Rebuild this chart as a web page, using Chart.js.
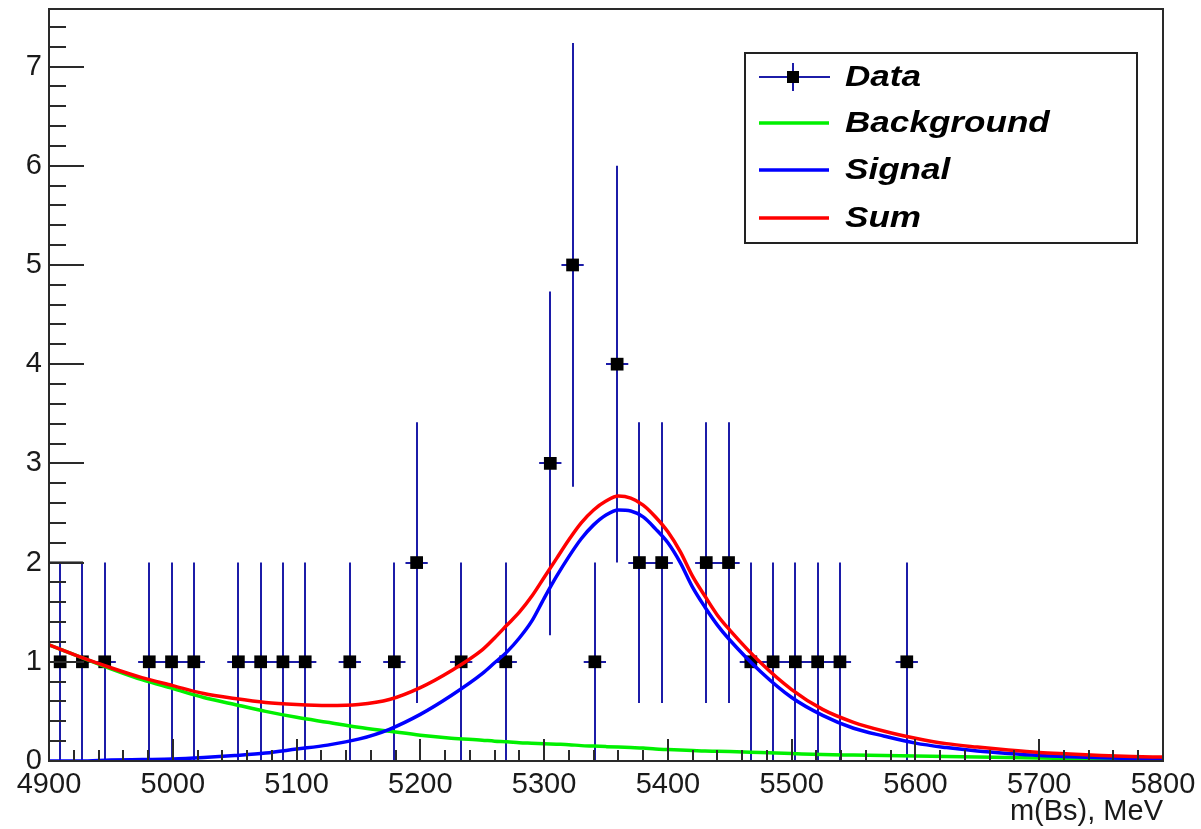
<!DOCTYPE html>
<html>
<head>
<meta charset="utf-8">
<script src="https://cdn.jsdelivr.net/npm/chart.js@4.4.1/dist/chart.umd.min.js"></script>
<style>
  body { margin: 0; background: #fff; }
  #c { display: block; }
</style>
</head>
<body>
<canvas id="c" width="1201" height="829"></canvas>
<script>
// --- data ---
// histogram bins (18 MeV wide), only the non-empty ones
var binCenters = [4909, 4927, 4945, 4981, 4999, 5017, 5053, 5071, 5089, 5107, 5143, 5179, 5197, 5233, 5269,
                  5305, 5323, 5341, 5359, 5377, 5395, 5431, 5449, 5467, 5485, 5503, 5521, 5539, 5593];
var counts     = [1, 1, 1, 1, 1, 1, 1, 1, 1, 1, 1, 1, 2, 1, 1,
                  3, 5, 1, 4, 2, 2, 2, 2, 1, 1, 1, 1, 1, 1];
var binHalfWidth = 9;

// fitted curves
var curveX     = [4900, 4925, 4950, 4975, 5000, 5025, 5050, 5075, 5100, 5125, 5150, 5175, 5200, 5225,
                  5250, 5260, 5270, 5280, 5290, 5300, 5310, 5320, 5330, 5340, 5350, 5360, 5370, 5380, 5390,
                  5400, 5410, 5420, 5430, 5440, 5450, 5475, 5500, 5525, 5550, 5575, 5600, 5625, 5650, 5675,
                  5700, 5725, 5750, 5775, 5800];
var background = [1.17, 1.05, 0.93, 0.82, 0.73, 0.64, 0.57, 0.50, 0.44, 0.39, 0.34, 0.30, 0.26, 0.23,
                  0.21, 0.20, 0.195, 0.185, 0.18, 0.175, 0.17, 0.165, 0.155, 0.15, 0.145, 0.14, 0.135, 0.13, 0.12,
                  0.115, 0.11, 0.105, 0.10, 0.098, 0.095, 0.085, 0.075, 0.065, 0.06, 0.055, 0.05, 0.045, 0.04, 0.035,
                  0.03, 0.025, 0.02, 0.02, 0.015];
var signal     = [0.00, 0.00, 0.01, 0.015, 0.02, 0.035, 0.055, 0.08, 0.12, 0.16, 0.22, 0.32, 0.47, 0.66,
                  0.88, 0.99, 1.10, 1.24, 1.41, 1.64, 1.86, 2.06, 2.24, 2.38, 2.48, 2.53, 2.52, 2.46, 2.34,
                  2.20, 2.00, 1.75, 1.55, 1.37, 1.22, 0.90, 0.64, 0.46, 0.33, 0.25, 0.18, 0.135, 0.10, 0.075,
                  0.055, 0.042, 0.032, 0.025, 0.02];
var sum        = [1.17, 1.05, 0.94, 0.84, 0.76, 0.68, 0.63, 0.59, 0.57, 0.56, 0.57, 0.62, 0.74, 0.91,
                  1.12, 1.24, 1.37, 1.50, 1.66, 1.85, 2.04, 2.23, 2.40, 2.53, 2.62, 2.67, 2.65, 2.58, 2.46,
                  2.31, 2.11, 1.86, 1.66, 1.47, 1.32, 0.99, 0.72, 0.52, 0.39, 0.30, 0.23, 0.175, 0.14, 0.11,
                  0.085, 0.07, 0.055, 0.045, 0.04];

// little black stub at the left edge
var stubX = [4900, 4927.5];
var stubY = [2, 2];

var xTicks = [4900, 5000, 5100, 5200, 5300, 5400, 5500, 5600, 5700, 5800];
var yTicks = [0, 1, 2, 3, 4, 5, 6, 7];
var xMin = 4900, xMax = 5800, yMin = 0, yMax = 7.58;

var legendLabels = ['Data', 'Background', 'Signal', 'Sum'];

var FONT = '"Liberation Sans", Arial, Helvetica, sans-serif';
var ERR_BLUE = '#1c1ca8';

function pts(xs, ys) {
    var out = [];
    for (var i = 0; i < xs.length; i++) out.push({x: xs[i], y: ys[i]});
    return out;
}

// error bars drawn just before the data markers
var errorBars = {
    id: 'errorBars',
    beforeDatasetDraw: function (chart, args) {
        if (chart.data.datasets[args.index].label !== 'Data') return;
        var ctx = chart.ctx, x = chart.scales.x, y = chart.scales.y;
        ctx.save();
        ctx.strokeStyle = ERR_BLUE;
        ctx.lineWidth = 2;
        ctx.beginPath();
        for (var i = 0; i < binCenters.length; i++) {
            var e = Math.sqrt(counts[i]);
            var px = Math.round(x.getPixelForValue(binCenters[i]));
            var py = Math.round(y.getPixelForValue(counts[i]));
            ctx.moveTo(px, y.getPixelForValue(Math.max(0, counts[i] - e)));
            ctx.lineTo(px, y.getPixelForValue(counts[i] + e));
            ctx.moveTo(x.getPixelForValue(binCenters[i] - binHalfWidth), py);
            ctx.lineTo(x.getPixelForValue(binCenters[i] + binHalfWidth), py);
        }
        ctx.stroke();
        ctx.restore();
    }
};

// ROOT style frame with inner ticks
var rootFrame = {
    id: 'rootFrame',
    afterDatasetsDraw: function (chart) {
        var ctx = chart.ctx, a = chart.chartArea, x = chart.scales.x, y = chart.scales.y;
        ctx.save();
        ctx.strokeStyle = '#2a2a2a';
        ctx.lineWidth = 2;
        ctx.strokeRect(a.left, a.top, a.right - a.left, a.bottom - a.top);
        ctx.beginPath();
        var v, p;
        for (v = xMin; v <= xMax + 0.01; v += 20) {
            p = Math.round(x.getPixelForValue(v));
            var major = Math.abs((v - xMin) % 100) < 0.01;
            ctx.moveTo(p, a.bottom);
            ctx.lineTo(p, a.bottom - (major ? 22 : 11));
        }
        for (v = 0; v <= yMax + 0.001; v += 0.2) {
            p = Math.round(y.getPixelForValue(v));
            var maj = Math.abs(v - Math.round(v)) < 0.01;
            ctx.moveTo(a.left, p);
            ctx.lineTo(a.left + (maj ? 35 : 17), p);
        }
        ctx.stroke();
        ctx.restore();
    }
};

// legend box, top right
var rootLegend = {
    id: 'rootLegend',
    afterDraw: function (chart) {
        var ctx = chart.ctx;
        var bx = 745, by = 53, bw = 392, bh = 190;
        var rows = [77, 123, 170, 218];
        var colors = [null, '#00f000', '#0000ff', '#ff0000'];
        ctx.save();
        ctx.fillStyle = '#fff';
        ctx.fillRect(bx, by, bw, bh);
        ctx.strokeStyle = '#222';
        ctx.lineWidth = 2;
        ctx.strokeRect(bx, by, bw, bh);

        for (var i = 0; i < legendLabels.length; i++) {
            var ry = rows[i];
            if (i === 0) {
                ctx.strokeStyle = ERR_BLUE;
                ctx.lineWidth = 2;
                ctx.beginPath();
                ctx.moveTo(759, ry); ctx.lineTo(830, ry);
                ctx.moveTo(793, ry - 14); ctx.lineTo(793, ry + 14);
                ctx.stroke();
                ctx.fillStyle = '#000';
                ctx.fillRect(787, ry - 6, 12, 12);
            } else {
                ctx.strokeStyle = colors[i];
                ctx.lineWidth = 3.5;
                ctx.beginPath();
                ctx.moveTo(759, ry); ctx.lineTo(829, ry);
                ctx.stroke();
            }
            ctx.save();
            ctx.translate(845, ry);
            ctx.scale(1.17, 1);
            ctx.fillStyle = '#000';
            ctx.font = 'italic bold 30px ' + FONT;
            ctx.textBaseline = 'middle';
            ctx.textAlign = 'left';
            ctx.fillText(legendLabels[i], 0, 1);
            ctx.restore();
        }
        ctx.restore();
    }
};

var curveStyle = {
    showLine: true,
    pointRadius: 0,
    borderWidth: 3.5,
    fill: false,
    cubicInterpolationMode: 'monotone'
};

new Chart(document.getElementById('c'), {
    type: 'scatter',
    data: {
        datasets: [
            Object.assign({label: 'Sum', data: pts(curveX, sum), borderColor: '#ff0000'}, curveStyle),
            Object.assign({label: 'Signal', data: pts(curveX, signal), borderColor: '#0000ff'}, curveStyle),
            Object.assign({label: 'Background', data: pts(curveX, background), borderColor: '#00f000'}, curveStyle),
            {label: 'stub', data: pts(stubX, stubY), showLine: true, pointRadius: 0, borderWidth: 2, borderColor: '#111'},
            {
                label: 'Data',
                data: pts(binCenters, counts),
                pointStyle: 'rect',
                pointRadius: 9,
                pointHoverRadius: 9,
                backgroundColor: '#000',
                borderWidth: 0,
                showLine: false
            }
        ]
    },
    options: {
        responsive: false,
        animation: false,
        devicePixelRatio: 1,
        layout: {padding: {top: 8, right: 38, left: 0, bottom: 0}},
        plugins: {
            legend: {display: false},
            tooltip: {enabled: false}
        },
        scales: {
            x: {
                type: 'linear',
                min: xMin,
                max: xMax,
                grid: {display: false, drawTicks: false},
                border: {display: false},
                afterBuildTicks: function (s) { s.ticks = xTicks.map(function (v) { return {value: v}; }); },
                afterFit: function (s) { s.height = 68; s.paddingLeft = 0; s.paddingRight = 0; },
                ticks: {
                    color: '#1a1a1a',
                    font: {family: FONT, size: 29},
                    padding: 7,
                    maxRotation: 0,
                    autoSkip: false,
                    callback: function (v) { return String(v); }
                },
                title: {
                    display: true,
                    text: 'm(Bs), MeV',
                    align: 'end',
                    color: '#1a1a1a',
                    font: {family: FONT, size: 29},
                    padding: {top: 0, bottom: 0}
                }
            },
            y: {
                type: 'linear',
                min: yMin,
                max: yMax,
                grid: {display: false, drawTicks: false},
                border: {display: false},
                afterBuildTicks: function (s) { s.ticks = yTicks.map(function (v) { return {value: v}; }); },
                afterFit: function (s) { s.width = 49; s.paddingTop = 0; s.paddingBottom = 0; },
                ticks: {
                    color: '#1a1a1a',
                    font: {family: FONT, size: 29},
                    padding: 7,
                    autoSkip: false,
                    callback: function (v) { return String(v); }
                }
            }
        }
    },
    plugins: [errorBars, rootFrame, rootLegend]
});
</script>
</body>
</html>
